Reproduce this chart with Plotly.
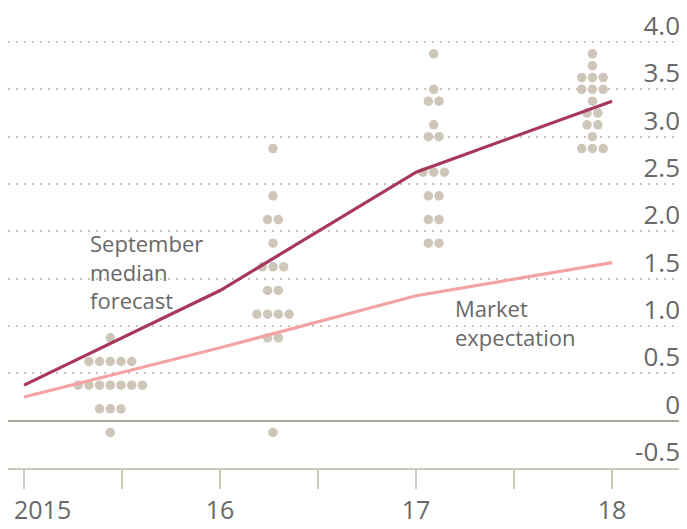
import plotly.graph_objects as go

# ---- data ----
years = [2015, 2016, 2017, 2018]
median_forecast = [0.375, 1.375, 2.625, 3.375]
market_expectation = [0.25, 0.77, 1.32, 1.67]

dot_columns_x = [2015.44, 2016.27, 2017.09, 2017.9]
dots_2015_rates = [0.875, 0.625, 0.375, 0.125, -0.125]
dots_2015_counts = [1, 5, 7, 3, 1]
dots_2016_rates = [2.875, 2.375, 2.125, 1.875, 1.625, 1.375, 1.125, 0.875, -0.125]
dots_2016_counts = [1, 1, 2, 1, 3, 2, 4, 2, 1]
dots_2017_rates = [3.875, 3.5, 3.375, 3.125, 3.0, 2.625, 2.375, 2.125, 1.875]
dots_2017_counts = [1, 1, 2, 1, 2, 3, 2, 2, 2]
dots_2018_rates = [3.875, 3.75, 3.625, 3.5, 3.375, 3.25, 3.125, 3.0, 2.875]
dots_2018_counts = [1, 1, 3, 3, 1, 2, 2, 1, 3]

y_tickvals = [-0.5, 0, 0.5, 1.0, 1.5, 2.0, 2.5, 3.0, 3.5, 4.0]
y_ticktext = ["-0.5", "0", "0.5", "1.0", "1.5", "2.0", "2.5", "3.0", "3.5", "4.0"]
x_tickvals = [2015, 2015.5, 2016, 2016.5, 2017, 2017.5, 2018]
x_ticktext = ["2015", "", "16", "", "17", "", "18"]

median_label = "September<br>median<br>forecast"
market_label = "Market<br>expectation"

# ---- style ----
DOT_COLOR = "#cfc6ba"
MEDIAN_COLOR = "#a8375d"
MARKET_COLOR = "#f3a3a4"
GRID_COLOR = "#cbc3b7"
AXIS_COLOR = "#cfc9bd"
ZERO_COLOR = "#a8a899"
TEXT_COLOR = "#686868"
FONT = "Open Sans"
DOT_SPACING = 0.0546  # horizontal spacing between dots in a row (years)

fig = go.Figure()

columns = [
    (dots_2015_rates, dots_2015_counts),
    (dots_2016_rates, dots_2016_counts),
    (dots_2017_rates, dots_2017_counts),
    (dots_2018_rates, dots_2018_counts),
]
dx, dy = [], []
for cx, (rates, counts) in zip(dot_columns_x, columns):
    for r, n in zip(rates, counts):
        for i in range(n):
            dx.append(cx + (i - (n - 1) / 2) * DOT_SPACING)
            dy.append(r)

fig.add_trace(go.Scatter(
    x=dx, y=dy, mode="markers",
    marker=dict(size=9.5, color=DOT_COLOR, line=dict(width=0)),
    hoverinfo="skip", showlegend=False,
))
fig.add_trace(go.Scatter(
    x=years, y=market_expectation, mode="lines",
    line=dict(color=MARKET_COLOR, width=3.2), showlegend=False,
))
fig.add_trace(go.Scatter(
    x=years, y=median_forecast, mode="lines",
    line=dict(color=MEDIAN_COLOR, width=3.2), showlegend=False,
))

fig.add_annotation(
    x=2015.327, y=1.58, xref="x", yref="y",
    text=median_label, showarrow=False,
    xanchor="left", yanchor="middle", align="left",
    font=dict(family=FONT, size=22, color=TEXT_COLOR),
)
fig.add_annotation(
    x=2017.19, y=1.035, xref="x", yref="y",
    text=market_label, showarrow=False,
    xanchor="left", yanchor="middle", align="left",
    font=dict(family=FONT, size=22, color=TEXT_COLOR),
)
# first year label is nudged right of its tick so it stays inside the chart
fig.add_annotation(
    x=x_tickvals[0], y=0, xref="x", yref="paper",
    text=x_ticktext[0], showarrow=False,
    xanchor="left", yanchor="middle", xshift=-12, yshift=-41,
    font=dict(family=FONT, size=25, color=TEXT_COLOR),
)
x_ticktext_axis = [""] + x_ticktext[1:]

# The page body adds an 8px margin, so the figure is 8px smaller than the window.
fig.update_layout(
    width=679, height=521,
    margin=dict(l=0, r=4, t=31, b=61, autoexpand=False),
    paper_bgcolor="white", plot_bgcolor="white",
    font=dict(family=FONT, color=TEXT_COLOR),
    showlegend=False,
    xaxis=dict(
        range=[2014.918, 2018.362], automargin=False,
        tickvals=x_tickvals, ticktext=x_ticktext_axis,
        showgrid=False, zeroline=False,
        showline=True, linecolor=AXIS_COLOR, linewidth=2,
        ticks="outside", ticklen=19, tickwidth=2, tickcolor=AXIS_COLOR,
        ticklabeloverflow="allow",
        tickfont=dict(family=FONT, size=25, color=TEXT_COLOR),
        fixedrange=True,
    ),
    yaxis=dict(
        range=[-0.5, 4.032], side="right", automargin=False,
        tickvals=y_tickvals, ticktext=y_ticktext,
        ticklabelposition="inside", ticklabeloverflow="allow",
        ticklabelshift=-16,
        showgrid=True, gridcolor=GRID_COLOR, gridwidth=2, griddash="2px,6px",
        zeroline=True, zerolinecolor=ZERO_COLOR, zerolinewidth=2,
        showline=False, ticks="",
        tickfont=dict(family=FONT, size=26, color=TEXT_COLOR),
        fixedrange=True,
    ),
)

fig.write_html("out.html")
